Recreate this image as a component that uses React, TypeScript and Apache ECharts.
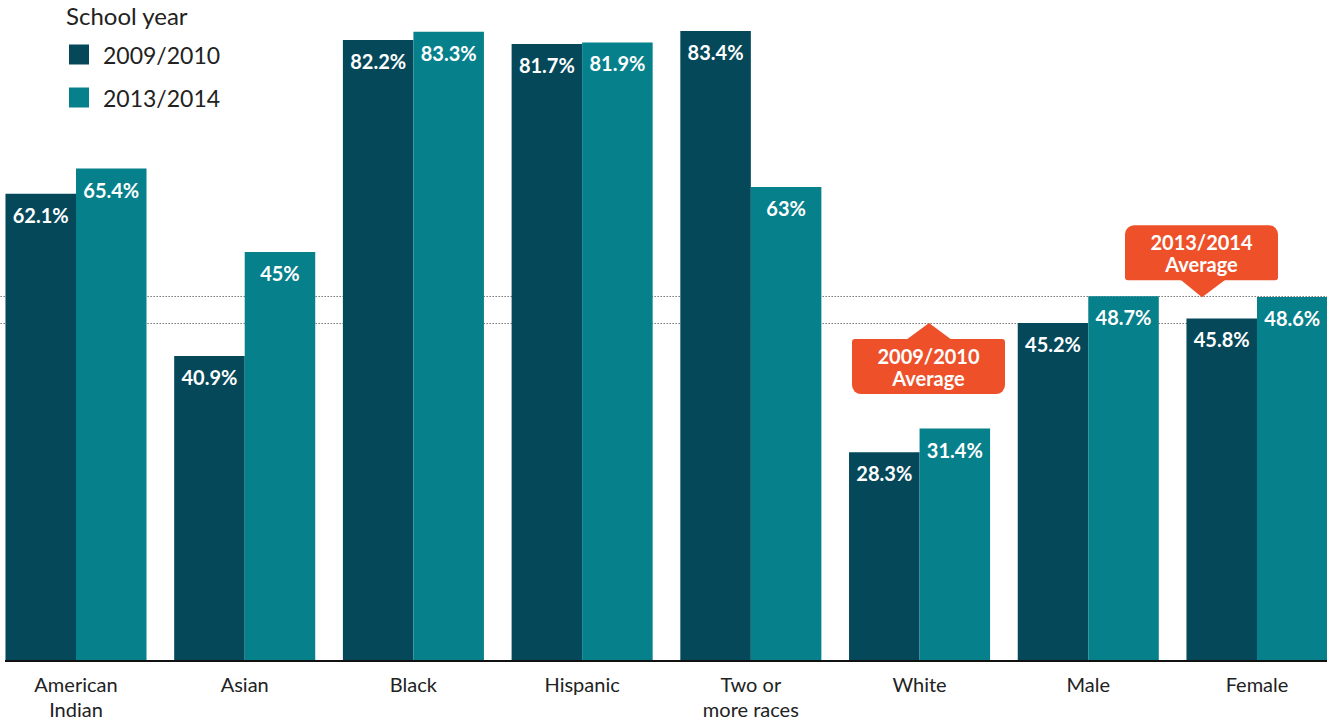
import React, { useEffect, useRef } from "react";
import * as echarts from "echarts";

const categories = ["American\nIndian", "Asian", "Black", "Hispanic", "Two or\nmore races", "White", "Male", "Female"];
const seriesNames = ["2009/2010", "2013/2014"];
const values2009 = [62.1, 40.9, 82.2, 81.7, 83.4, 28.3, 45.2, 45.8];
const values2013 = [65.4, 54.5, 83.3, 81.9, 63, 31.4, 48.7, 48.6];
const labels2009 = ["62.1%", "40.9%", "82.2%", "81.7%", "83.4%", "28.3%", "45.2%", "45.8%"];
const labels2013 = ["65.4%", "45%", "83.3%", "81.9%", "63%", "31.4%", "48.7%", "48.6%"];
const averages = [45.2, 48.7];
const calloutTexts = ["2009/2010\nAverage", "2013/2014\nAverage"];
const legendTitle = "School year";

const DARK = "#04485A";
const TEAL = "#06808B";
const ORANGE = "#EE512A";
const FONT = "Lato";
const OFF = 20; // chart div is shifted left by this many pixels

export default function App() {
  const ref = useRef<HTMLDivElement>(null);
  useEffect(() => {
    if (!ref.current) return;
    const chart = echarts.init(ref.current, undefined, { renderer: "svg" });
    const labelStyle = {
      show: true,
      position: "insideTop",
      distance: 11,
      color: "#fff",
      fontFamily: FONT,
      fontWeight: "bold",
      fontSize: 20,
    };
    chart.setOption({
      animation: false,
      title: {
        text: legendTitle,
        left: 66 + OFF,
        top: 3,
        padding: 0,
        textStyle: { fontFamily: FONT, fontSize: 24, fontWeight: "normal", color: "#222" },
      },
      legend: {
        orient: "vertical",
        left: 69 + OFF,
        top: 43,
        padding: 0,
        itemWidth: 20,
        itemHeight: 20,
        itemGap: 20,
        icon: "rect",
        data: seriesNames,
        textStyle: { fontFamily: FONT, fontSize: 23, color: "#222", padding: [0, 0, 0, 9] },
      },
      grid: { left: -8.36 + OFF, width: 1349.7, top: 18.7, bottom: 58 },
      xAxis: {
        type: "category",
        data: categories,
        axisLine: { show: false },
        axisTick: { show: false },
        axisLabel: { fontFamily: FONT, fontSize: 20, color: "#222", lineHeight: 25, margin: 10, interval: 0 },
      },
      yAxis: { type: "value", min: 1, max: 85, show: false },
      series: [
        {
          name: seriesNames[0],
          type: "bar",
          data: values2009,
          barGap: "0%",
          barCategoryGap: "16.4%",
          itemStyle: { color: DARK },
          label: { ...labelStyle, formatter: (p: any) => labels2009[p.dataIndex] },
          markLine: {
            silent: true,
            symbol: "none",
            z: 1,
            label: { show: false },
            lineStyle: { type: [1, 2], color: "#333", width: 1 },
            data: averages.map((a) => ({ yAxis: a })),
          },
        },
        {
          name: seriesNames[1],
          type: "bar",
          data: values2013,
          barGap: "0%",
          barCategoryGap: "16.4%",
          itemStyle: { color: TEAL },
          label: { ...labelStyle, formatter: (p: any) => labels2013[p.dataIndex] },
        },
      ],
    });

    const y0 = chart.convertToPixel({ yAxisIndex: 0 }, 1) as number;
    const y1 = chart.convertToPixel({ yAxisIndex: 0 }, averages[0]) as number;
    const y2 = chart.convertToPixel({ yAxisIndex: 0 }, averages[1]) as number;
    const textStyle = {
      fill: "#fff",
      fontFamily: FONT,
      fontWeight: "bold",
      fontSize: 20,
      lineHeight: 22,
      textAlign: "center",
      textVerticalAlign: "middle",
    };
    const X = (v: number) => v + OFF;
    chart.setOption({
      graphic: [
        { type: "line", z: 10, shape: { x1: X(5), y1: y0, x2: X(1327), y2: y0 }, style: { stroke: "#111", lineWidth: 2 } },
        // 2009/2010 callout (below line, arrow up)
        { type: "rect", z: 10, shape: { x: X(852), y: y1 + 16, width: 153, height: 55, r: [3, 3, 9, 9] }, style: { fill: ORANGE } },
        { type: "polygon", z: 10, shape: { points: [[X(906), y1 + 17], [X(929), y1], [X(952), y1 + 17]] }, style: { fill: ORANGE } },
        { type: "text", z: 11, x: X(928.5), y: y1 + 16 + 28, style: { ...textStyle, text: calloutTexts[0] } },
        // 2013/2014 callout (above line, arrow down)
        { type: "rect", z: 10, shape: { x: X(1125), y: y2 - 16 - 55, width: 153, height: 55, r: [9, 9, 3, 3] }, style: { fill: ORANGE } },
        { type: "polygon", z: 10, shape: { points: [[X(1180), y2 - 17], [X(1202), y2 + 1], [X(1226), y2 - 17]] }, style: { fill: ORANGE } },
        { type: "text", z: 11, x: X(1201.5), y: y2 - 16 - 27, style: { ...textStyle, text: calloutTexts[1] } },
      ],
    });
    return () => chart.dispose();
  }, []);
  return (
    <div style={{ position: "absolute", left: 0, top: 0, width: 1327, height: 721, overflow: "hidden" }}>
      <div
        ref={ref}
        style={{ position: "absolute", left: -OFF, top: 0, width: 1327 + 2 * OFF + 20, height: 721 }}
      />
    </div>
  );
}
